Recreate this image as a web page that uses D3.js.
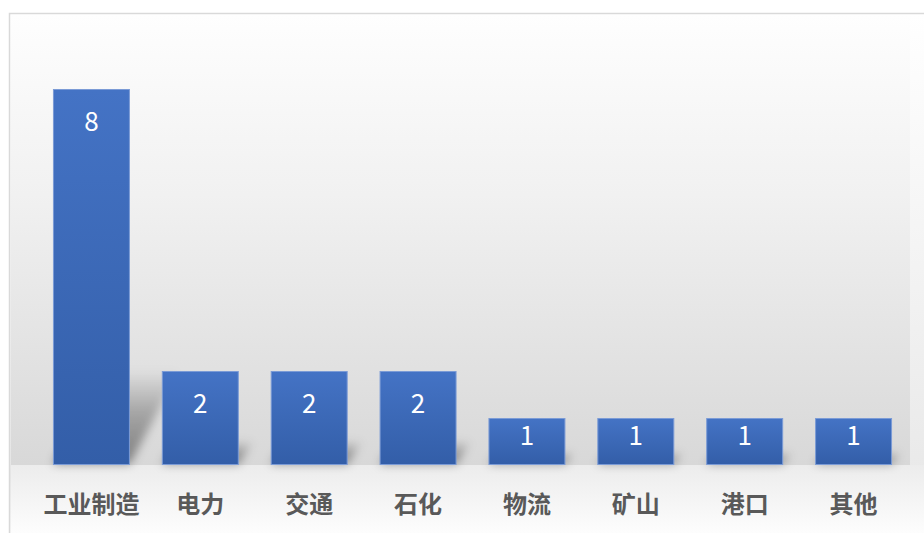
<!DOCTYPE html>
<html>
<head>
<meta charset="utf-8">
<script src="https://cdn.jsdelivr.net/npm/d3@7/dist/d3.min.js"></script>
<style>
  html, body { margin: 0; padding: 0; background: #ffffff; }
  svg { display: block; }
</style>
</head>
<body>
<svg id="chart" width="924" height="533"></svg>
<script>
// Number of projects by industry
const categories = ["工业制造", "电力", "交通", "石化", "物流", "矿山", "港口", "其他"];
const counts = [8, 2, 2, 2, 1, 1, 1, 1];
const yMax = 9;

const W = 924, H = 533;
const svg = d3.select("#chart");
const defs = svg.append("defs");

// chart-area background: white fading to light gray
const bgGrad = defs.append("linearGradient")
  .attr("id", "bgGrad").attr("x1", 0).attr("y1", 0).attr("x2", 0).attr("y2", 1);
bgGrad.append("stop").attr("offset", "0%").attr("stop-color", "#ffffff");
bgGrad.append("stop").attr("offset", "87%").attr("stop-color", "#e9e9e9");
bgGrad.append("stop").attr("offset", "100%").attr("stop-color", "#fcfcfc");

// plot-area background
const plotGrad = defs.append("linearGradient")
  .attr("id", "plotGrad").attr("x1", 0).attr("y1", 0).attr("x2", 0).attr("y2", 1);
plotGrad.append("stop").attr("offset", "0%").attr("stop-color", "#fefefe");
plotGrad.append("stop").attr("offset", "40%").attr("stop-color", "#f1f1f1");
plotGrad.append("stop").attr("offset", "100%").attr("stop-color", "#d8d8d8");

// bar fill
const barGrad = defs.append("linearGradient")
  .attr("id", "barGrad").attr("x1", 0).attr("y1", 0).attr("x2", 0).attr("y2", 1);
barGrad.append("stop").attr("offset", "0%").attr("stop-color", "#4473c5");
barGrad.append("stop").attr("offset", "100%").attr("stop-color", "#335ea8");

// shadow fill: dense at the base, fading out toward its far end
const shadowGrad = defs.append("linearGradient")
  .attr("id", "shadowGrad").attr("x1", 0).attr("y1", 1).attr("x2", 0).attr("y2", 0);
shadowGrad.append("stop").attr("offset", "0%").attr("stop-color", "#000").attr("stop-opacity", 0.42);
shadowGrad.append("stop").attr("offset", "55%").attr("stop-color", "#000").attr("stop-opacity", 0.25);
shadowGrad.append("stop").attr("offset", "100%").attr("stop-color", "#000").attr("stop-opacity", 0);

const blur = defs.append("filter").attr("id", "shadowBlur")
  .attr("x", "-50%").attr("y", "-50%").attr("width", "200%").attr("height", "200%");
blur.append("feGaussianBlur").attr("stdDeviation", 5);

// band under the category axis
const belowGrad = defs.append("linearGradient")
  .attr("id", "belowGrad").attr("x1", 0).attr("y1", 0).attr("x2", 0).attr("y2", 1);
belowGrad.append("stop").attr("offset", "0%").attr("stop-color", "#ececec");
belowGrad.append("stop").attr("offset", "100%").attr("stop-color", "#fdfdfd");

// chart area
svg.append("rect")
  .attr("x", 9.5).attr("y", 13.5).attr("width", W).attr("height", H)
  .attr("fill", "url(#bgGrad)")
  .attr("stroke", "#d9d9d9").attr("stroke-width", 1.5);

const x = d3.scaleBand()
  .domain(categories)
  .range([37, 908])
  .paddingInner(0.293)
  .paddingOuter(0.1465);

const y = d3.scaleLinear().domain([0, yMax]).range([465, 42]);

// plot area
svg.append("rect")
  .attr("x", 11).attr("y", 15).attr("width", 899).attr("height", y(0) - 15)
  .attr("fill", "url(#plotGrad)");
svg.append("rect")
  .attr("x", 11).attr("y", y(0)).attr("width", W - 11).attr("height", H - y(0))
  .attr("fill", "url(#belowGrad)");

const data = categories.map((c, i) => ({ cat: c, v: counts[i] }));

// perspective shadows: shortened and slanted to the upper right
const shadows = svg.append("g").attr("filter", "url(#shadowBlur)");
shadows.selectAll("path")
  .data(data)
  .join("path")
  .attr("d", d => {
    const x0 = x(d.cat), x1 = x0 + x.bandwidth();
    const yb = y(0) - 1, h = y(0) - y(d.v);
    const sh = h * 0.25, dx = sh * 0.5 + 3;
    return `M${x0},${yb}L${x1},${yb}L${x1 + dx},${yb - sh}L${x0 + dx},${yb - sh}Z`;
  })
  .attr("fill", "url(#shadowGrad)");

// bars
svg.append("g").selectAll("rect")
  .data(data)
  .join("rect")
  .attr("x", d => x(d.cat) + 0.5)
  .attr("y", d => y(d.v) + 0.5)
  .attr("width", x.bandwidth() - 1)
  .attr("height", d => y(0) - y(d.v) - 1)
  .attr("fill", "url(#barGrad)")
  .attr("stroke", "#7b9bd6").attr("stroke-width", 1);

// value labels inside the bar ends
svg.append("g").selectAll("text")
  .data(data)
  .join("text")
  .attr("x", d => x(d.cat) + x.bandwidth() / 2)
  .attr("y", d => y(d.v) + Math.min(30, (y(0) - y(d.v)) / 3))
  .attr("text-anchor", "middle")
  .attr("dominant-baseline", "central")
  .attr("fill", "#ffffff")
  .attr("font-family", "'Noto Sans CJK SC', 'Noto Sans', sans-serif")
  .attr("font-size", 26)
  .text(d => d.v);

// category axis
const axis = svg.append("g")
  .attr("transform", `translate(0,${y(0)})`)
  .call(d3.axisBottom(x).tickSize(0).tickPadding(0));
axis.select(".domain").remove();
axis.selectAll("text")
  .attr("y", 37)
  .attr("dy", 0)
  .attr("dominant-baseline", "central")
  .attr("fill", "#595959")
  .attr("font-family", "'Noto Sans CJK SC', sans-serif")
  .attr("font-weight", "bold")
  .attr("font-size", 24);
</script>
</body>
</html>
